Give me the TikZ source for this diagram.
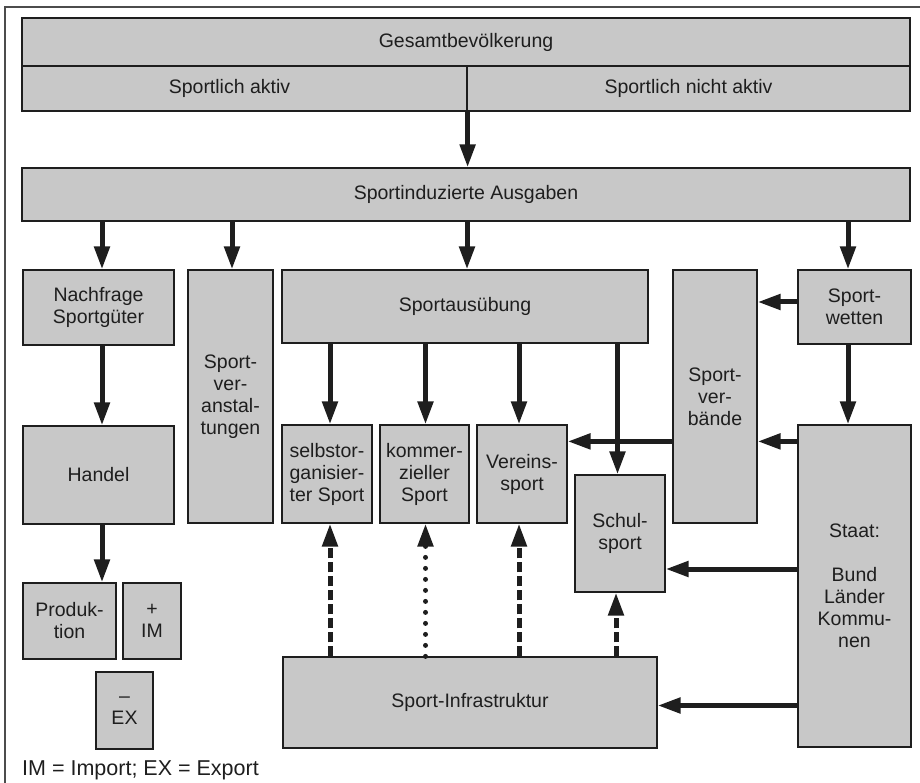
\documentclass[tikz,border=0pt]{standalone}
\usepackage{fontspec}
\setmainfont{Liberation Sans}
\usetikzlibrary{arrows.meta,calc}
\definecolor{boxgray}{RGB}{200,200,200}
\definecolor{ink}{RGB}{30,30,30}
\begin{document}
\begin{tikzpicture}[x=1pt,y=-1pt,
  box/.style={draw=ink, line width=1.2pt, fill=boxgray, inner sep=0pt, align=center,
    font=\fontsize{19.5}{22}\selectfont, text=ink},
  arr/.style={draw=ink, line width=5pt, -{Triangle[length=23pt,width=15pt]}},
  dasharr/.style={arr, dash pattern=on 10pt off 4pt},
  dotarr/.style={arr, line cap=round, dash pattern=on 0pt off 11pt}]
\useasboundingbox (0,0) rectangle (920,783);
\draw[gray!60!black, line width=1.5pt] (920,7) -- (5,7) -- (5,783);

% top block
\node[box, minimum width=888pt, minimum height=48pt] (gesamt) at (466,42) {Gesamtbevölkerung};
\node[box, minimum width=445pt, minimum height=45pt] (aktiv) at (244.5,88.5) {\hspace*{-30pt}Sportlich aktiv};
\node[box, minimum width=443pt, minimum height=45pt] (nicht) at (688.5,88.5) {Sportlich nicht aktiv};
\node[box, minimum width=888pt, minimum height=53pt] (ausgaben) at (466,194.5) {Sportinduzierte Ausgaben};

% second row
\node[box, minimum width=151pt, minimum height=75pt] (nachfrage) at (98.5,307.5) {Nachfrage\\Sportgüter};
\node[box, minimum width=151pt, minimum height=98pt] (handel) at (98.5,475) {Handel};
\node[box, minimum width=85pt, minimum height=253pt] (veranst) at (230.5,396.5) {Sport-\\ver-\\anstal-\\tungen};
\node[box, minimum width=366pt, minimum height=73pt] (ausueb) at (465,306.5) {Sportausübung};
\node[box, minimum width=90pt, minimum height=98pt] (selbst) at (327,474) {selbstor-\\ganisier-\\ter Sport};
\node[box, minimum width=89pt, minimum height=98pt] (kommerz) at (424.5,474) {kommer-\\zieller\\Sport};
\node[box, minimum width=90pt, minimum height=98pt] (verein) at (522,474) {Vereins-\\sport};
\node[box, minimum width=90pt, minimum height=117pt] (schul) at (620,533.5) {Schul-\\sport};
\node[box, minimum width=84pt, minimum height=253pt] (verband) at (715,396.5) {Sport-\\ver-\\bände};
\node[box, minimum width=113pt, minimum height=74pt] (wetten) at (854.5,307) {Sport-\\wetten};
\node[box, minimum width=113pt, minimum height=322pt] (staat) at (854.5,586) {Staat:\\[22pt]Bund\\Länder\\Kommu-\\nen};
\node[box, minimum width=374pt, minimum height=91pt] (infra) at (470,702.5) {Sport-Infrastruktur};
\node[box, minimum width=93pt, minimum height=76pt] (prod) at (69.5,621) {Produk-\\tion};
\node[box, minimum width=58pt, minimum height=76pt] (im) at (152,621) {+\\IM};
\node[box, minimum width=57pt, minimum height=77pt] (ex) at (124.5,710.5) {–\\EX};
\node[anchor=base west, inner sep=0pt, font=\fontsize{21.5}{24}\selectfont, text=ink] (note) at (22,775) {IM = Import; EX = Export};

% arrows from population to expenditures
\draw[arr] (aktiv.south east) -- (aktiv.south east |- ausgaben.north);

% arrows from expenditures
\draw[arr] ([xshift=3.5pt]nachfrage.north |- ausgaben.south) -- ([xshift=3.5pt]nachfrage.north);
\draw[arr] ([xshift=1.5pt]veranst.north |- ausgaben.south) -- ([xshift=1.5pt]veranst.north);
\draw[arr] ([xshift=2pt]ausueb.north |- ausgaben.south) -- ([xshift=2pt]ausueb.north);
\draw[arr] ([xshift=-6.5pt]wetten.north |- ausgaben.south) -- ([xshift=-6.5pt]wetten.north);

% left chain
\draw[arr] ([xshift=3.5pt]nachfrage.south) -- ([xshift=3.5pt]handel.north);
\draw[arr] ([xshift=3.5pt]handel.south) -- ([xshift=3.5pt]handel.south |- prod.north);

% from Sportausuebung
\draw[arr] ([xshift=3pt]selbst.north |- ausueb.south) -- ([xshift=3pt]selbst.north);
\draw[arr] ([xshift=1pt]kommerz.north |- ausueb.south) -- ([xshift=1pt]kommerz.north);
\draw[arr] ([xshift=-3pt]verein.north |- ausueb.south) -- ([xshift=-3pt]verein.north);
\draw[arr] ([xshift=-2.5pt]schul.north |- ausueb.south) -- ([xshift=-2.5pt]schul.north);

% right side
\draw[arr] ([yshift=5pt]wetten.west) -- ([yshift=5pt]wetten.west -| verband.east);
\draw[arr] ([xshift=-6.5pt]wetten.south) -- ([xshift=-6.5pt]staat.north);
\draw[arr] ([yshift=-17pt]staat.north west) -- ([yshift=-17pt]staat.north west -| verband.east);
\draw[arr] ([yshift=-17pt]staat.north west -| verband.west) -- ([yshift=-17pt]staat.north west -| verein.east);
\draw[arr] ([yshift=-35.5pt]schul.east -| staat.west) -- ([yshift=-35.5pt]schul.east);
\draw[arr] ([yshift=-3pt]infra.east -| staat.west) -- ([yshift=-3pt]infra.east);

% from infrastructure
\draw[dasharr] ([xshift=3pt]selbst.south |- infra.north) -- ([xshift=3pt]selbst.south);
\draw[dotarr] ([xshift=1pt]kommerz.south |- infra.north) -- ([xshift=1pt]kommerz.south);
\draw[dasharr] ([xshift=-3pt]verein.south |- infra.north) -- ([xshift=-3pt]verein.south);
\draw[dasharr] ([xshift=-4pt]schul.south |- infra.north) -- ([xshift=-4pt]schul.south);
\end{tikzpicture}
\end{document}
